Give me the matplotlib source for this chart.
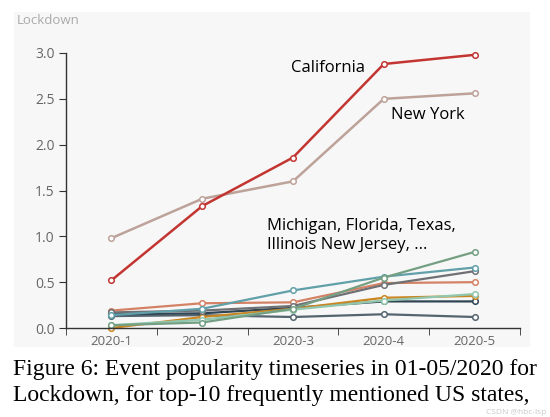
import matplotlib.pyplot as plt
from matplotlib.patches import Rectangle

months = ["2020-1", "2020-2", "2020-3", "2020-4", "2020-5"]

california = [0.52, 1.33, 1.86, 2.88, 2.98]
new_york = [0.98, 1.41, 1.60, 2.50, 2.56]

# remaining eight states (names not shown in the chart)
others = [
    [0.13, 0.14, 0.12, 0.15, 0.12],
    [0.15, 0.16, 0.22, 0.29, 0.29],
    [0.00, 0.12, 0.21, 0.33, 0.35],
    [0.03, 0.09, 0.20, 0.30, 0.37],
    [0.19, 0.27, 0.28, 0.49, 0.50],
    [0.17, 0.19, 0.24, 0.47, 0.62],
    [0.14, 0.21, 0.41, 0.56, 0.66],
    [0.03, 0.06, 0.21, 0.55, 0.83],
]
other_colors = ["#546570", "#2f4554", "#ca8622", "#91c7ae",
                "#d48265", "#6e7074", "#61a0a8", "#749f83"]

fig = plt.figure(figsize=(5.5, 4.17), dpi=100)
fig.patches.append(Rectangle((14 / 550, 1 - 347 / 417), 516 / 550, 335 / 417,
                             transform=fig.transFigure, facecolor="#f7f7f7",
                             edgecolor="none", zorder=-10))

ax = fig.add_axes([66 / 550, 1 - 328 / 417, 454 / 550, 275 / 417])
ax.set_facecolor("none")

x = list(range(len(months)))

def draw(vals, color, lw=1.6):
    ax.plot(x, vals, color=color, linewidth=lw, marker="o", markersize=4,
            markerfacecolor="white", markeredgecolor=color, markeredgewidth=1.1,
            clip_on=False)

for vals, c in zip(others, other_colors):
    draw(vals, c)
draw(new_york, "#bda29a", 1.8)
draw(california, "#c23531", 1.8)

ax.set_xlim(-0.5, 4.5)
ax.set_ylim(0, 3.0)
ax.set_yticks([0, 0.5, 1.0, 1.5, 2.0, 2.5, 3.0])
ax.set_yticklabels(["0.0", "0.5", "1.0", "1.5", "2.0", "2.5", "3.0"])
ax.set_xticks(x)
ax.set_xticklabels(months)
ax.set_xticks([i - 0.5 for i in range(len(months) + 1)], minor=True)
ax.tick_params(axis="x", which="major", length=0, pad=5, labelsize=9.5, labelcolor="#666666")
ax.tick_params(axis="x", which="minor", length=5, color="#333333", direction="out")
ax.tick_params(axis="y", length=5, color="#333333", labelsize=10, labelcolor="#666666", pad=3)
for s in ["top", "right"]:
    ax.spines[s].set_visible(False)
for s in ["left", "bottom"]:
    ax.spines[s].set_color("#333333")
    ax.spines[s].set_linewidth(1)

for lab in ax.get_xticklabels() + ax.get_yticklabels():
    lab.set_family("Open Sans")

fig.text(17 / 550, 1 - 21 / 417, "Lockdown", fontsize=9.5, color="#aaaaaa",
         family="Open Sans", va="center", ha="left")

ax.text(2.38, 2.84, "California", fontsize=12, family="Open Sans", ha="center", va="center")
ax.text(3.48, 2.32, "New York", fontsize=12, family="Open Sans", ha="center", va="center")
ax.text(1.71, 1.01, "Michigan, Florida, Texas,\nIllinois New Jersey, ...", fontsize=12,
        family="Open Sans", ha="left", va="center", linespacing=1.2)

fig.text(13 / 550, 1 - 370 / 417, "Figure 6: Event popularity timeseries in 01-05/2020 for",
         fontsize=17, family="Liberation Serif", va="center", ha="left")
fig.text(13 / 550, 1 - 396 / 417, "Lockdown, for top-10 frequently mentioned US states,",
         fontsize=17, family="Liberation Serif", va="center", ha="left")
fig.text(546 / 550, 1 - 412 / 417, "CSDN @hbc-lsp", fontsize=6, color="#c8c8c8",
         family="Open Sans", va="center", ha="right")

fig.savefig("out.png", dpi=100)
